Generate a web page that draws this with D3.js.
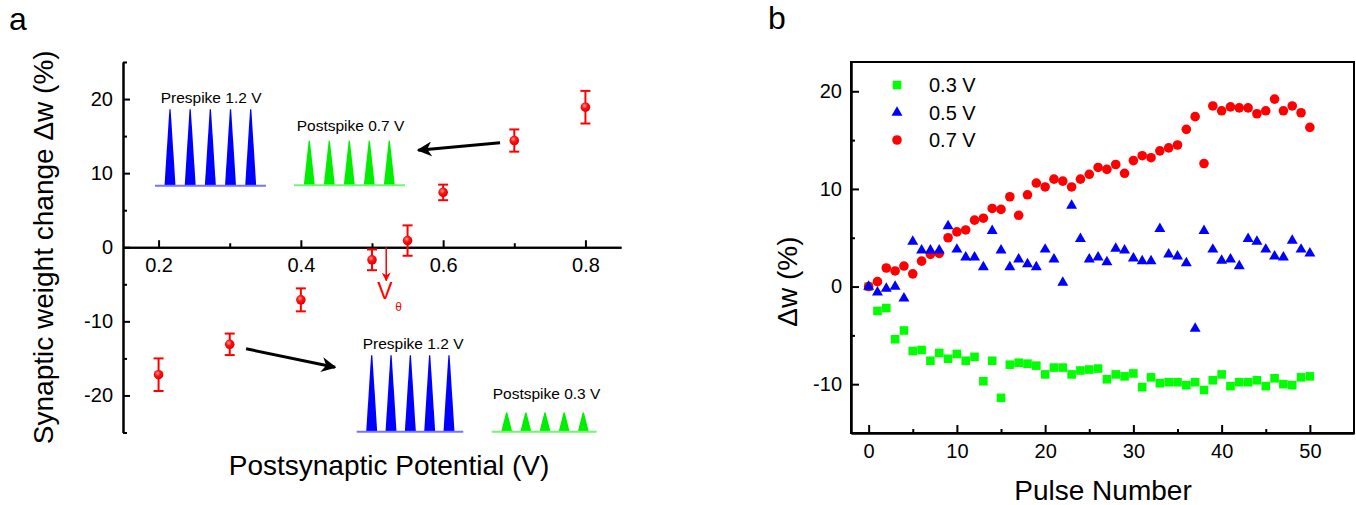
<!DOCTYPE html>
<html>
<head>
<meta charset="utf-8">
<script src="https://cdn.jsdelivr.net/npm/d3@7"></script>
<style>
body { margin: 0; background: #fff; }
svg text { font-family: "Liberation Sans", Arial, sans-serif; fill: #000; }
</style>
</head>
<body>
<div id="chart"></div>
<script>
// panel a : weight change vs postsynaptic potential
var potentials = [0.2, 0.3, 0.4, 0.5, 0.55, 0.6, 0.7, 0.8];
var weightChange = [-17.2, -13.1, -7.1, -1.7, 0.9, 7.4, 14.4, 18.9];
var weightErr = [2.2, 1.45, 1.55, 1.4, 2.05, 1.05, 1.5, 2.2];
var potentialTicks = [0.2, 0.4, 0.6, 0.8];
var potentialMinor = [0.3, 0.5, 0.7];
var changeTicks = [-20, -10, 0, 10, 20];
var changeMinor = [-25, -15, -5, 5, 15, 25];
var thresholdV = 0.52;

// spike insets
var insetLabels = ["Prespike 1.2 V", "Postspike 0.7 V", "Prespike 1.2 V", "Postspike 0.3 V"];
var insetVolts = [1.2, 0.7, 1.2, 0.3];
var spikeCount = 5;

// panel b : weight change vs pulse number
var seriesNames = ["0.3 V", "0.5 V", "0.7 V"];
var dw03 = [0, -2.5, -2.2, -5.4, -4.5, -6.6, -6.5, -7.6, -6.8, -7.4,
            -6.9, -7.6, -7.2, -9.7, -7.6, -11.4, -8.0, -7.8, -7.9, -8.1,
            -9.0, -8.3, -8.3, -9.0, -8.6, -8.5, -8.4, -9.5, -9.0, -9.2,
            -8.9, -10.3, -9.3, -9.9, -9.8, -9.8, -10.1, -9.8, -10.6, -9.6,
            -9.0, -10.2, -9.8, -9.8, -9.6, -10.2, -9.4, -10.0, -10.1, -9.3, -9.2];
var dw05 = [0, -0.6, -0.2, 0, -1.2, 4.6, 3.7, 3.7, 3.7, 6.2,
            3.8, 3.0, 3.0, 2.0, 5.7, 3.7, 2.0, 2.8, 2.3, 2.0,
            3.8, 2.8, 0.4, 8.3, 4.9, 2.8, 3.0, 2.5, 3.9, 3.7,
            2.9, 2.6, 2.6, 5.9, 3.3, 3.1, 2.4, -4.3, 5.7, 3.8,
            2.65, 2.8, 2.1, 4.9, 4.6, 3.8, 3.1, 3.0, 4.7, 3.8, 3.4];
var dw07 = [0, 0.5, 1.9, 1.6, 2.1, 1.3, 2.6, 3.3, 3.4, 5.0,
            5.6, 5.8, 6.8, 7.0, 8.0, 7.9, 9.2, 7.3, 9.4, 10.6,
            10.2, 11.0, 10.8, 10.2, 11.0, 11.5, 12.2, 12.0, 12.5, 11.6,
            12.9, 13.4, 13.2, 13.9, 14.2, 14.5, 16.1, 17.4, 12.6, 18.5,
            18.0, 18.4, 18.3, 18.3, 17.7, 18.0, 19.2, 18.0, 18.5, 17.8, 16.3];
var pulseTicks = [0, 10, 20, 30, 40, 50];
var pulseMinor = [5, 15, 25, 35, 45];
var dwTicks = [-10, 0, 10, 20];
var dwMinor = [-5, 5, 15];

function styleAxis(g, size){
    g.selectAll(".domain").attr("stroke", "#000").attr("stroke-width", 2);
    g.selectAll(".tick line").attr("stroke", "#000").attr("stroke-width", 2);
    g.selectAll(".tick text").attr("font-size", size).attr("fill", "#000")
        .style("font-family", '"Liberation Sans", Arial, sans-serif');
}

function init(){

    var w = 1356;
    var h = 505;

    var svg = d3.select("#chart")
                .append("svg")
                .attr("width", w)
                .attr("height", h);

    var defs = svg.append("defs");
    var grad = defs.append("radialGradient")
                   .attr("id", "ball")
                   .attr("cx", "40%").attr("cy", "35%").attr("r", "65%");
    grad.append("stop").attr("offset", "0%").attr("stop-color", "#ff9a9a");
    grad.append("stop").attr("offset", "45%").attr("stop-color", "#ff1010");
    grad.append("stop").attr("offset", "100%").attr("stop-color", "#e00000");

    function arrowMarker(id, color, size){
        defs.append("marker")
            .attr("id", id)
            .attr("viewBox", "0 0 10 10")
            .attr("refX", 9).attr("refY", 5)
            .attr("markerWidth", size).attr("markerHeight", size)
            .attr("markerUnits", "userSpaceOnUse")
            .attr("orient", "auto")
            .append("path")
            .attr("d", "M0,0 L10,5 L0,10 L3,5 Z")
            .attr("fill", color);
    }
    arrowMarker("blackHead", "#000", 15);
    arrowMarker("redHead", "#ff0000", 9);

    // ---------- panel a ----------
    var xA = d3.scaleLinear()
               .domain([0.15, 0.85])
               .range([123, 621]);
    var yA = d3.scaleLinear()
               .domain([-25, 25])
               .range([432.5, 62]);

    var gA = svg.append("g");

    var yAxA = gA.append("g")
        .attr("transform", "translate(" + xA(0.15) + ",0)")
        .call(d3.axisLeft(yA).tickValues(changeTicks).tickSizeInner(-7).tickSizeOuter(0)
              .tickPadding(10).tickFormat(function(d){ return String(d); }));
    styleAxis(yAxA, 20);
    var yMinA = gA.append("g")
        .attr("transform", "translate(" + xA(0.15) + ",0)")
        .call(d3.axisLeft(yA).tickValues(changeMinor).tickSizeInner(-4).tickSizeOuter(0).tickFormat(""));
    styleAxis(yMinA, 20);

    var xAxA = gA.append("g")
        .attr("transform", "translate(0," + yA(0) + ")")
        .call(d3.axisBottom(xA).tickValues(potentialTicks).tickSizeInner(-7).tickSizeOuter(0)
              .tickPadding(11).tickFormat(d3.format(".1f")));
    styleAxis(xAxA, 20);
    var xMinA = gA.append("g")
        .attr("transform", "translate(0," + yA(0) + ")")
        .call(d3.axisBottom(xA).tickValues(potentialMinor).tickSizeInner(-4).tickSizeOuter(0).tickFormat(""));
    styleAxis(xMinA, 20);

    // error bars
    var ptsA = potentials.map(function(p, i){ return {x: p, y: weightChange[i], e: weightErr[i]}; });
    var eb = gA.selectAll(".err")
        .data(ptsA)
        .enter()
        .append("g")
        .attr("class", "err")
        .attr("stroke", "#ff0000")
        .attr("stroke-width", 2);
    eb.append("line")
        .attr("x1", function(d){ return xA(d.x); })
        .attr("x2", function(d){ return xA(d.x); })
        .attr("y1", function(d){ return yA(d.y + d.e); })
        .attr("y2", function(d){ return yA(d.y - d.e); });
    eb.append("line")
        .attr("x1", function(d){ return xA(d.x) - 5; })
        .attr("x2", function(d){ return xA(d.x) + 5; })
        .attr("y1", function(d){ return yA(d.y + d.e); })
        .attr("y2", function(d){ return yA(d.y + d.e); });
    eb.append("line")
        .attr("x1", function(d){ return xA(d.x) - 5; })
        .attr("x2", function(d){ return xA(d.x) + 5; })
        .attr("y1", function(d){ return yA(d.y - d.e); })
        .attr("y2", function(d){ return yA(d.y - d.e); });

    gA.selectAll(".ball")
        .data(ptsA)
        .enter()
        .append("circle")
        .attr("class", "ball")
        .attr("cx", function(d){ return xA(d.x); })
        .attr("cy", function(d){ return yA(d.y); })
        .attr("r", 4.8)
        .attr("fill", "url(#ball)");

    // threshold arrow
    gA.append("line")
        .attr("x1", xA(thresholdV)).attr("x2", xA(thresholdV))
        .attr("y1", yA(0)).attr("y2", yA(-4.5))
        .attr("stroke", "#ff0000").attr("stroke-width", 1.5)
        .attr("marker-end", "url(#redHead)");
    gA.append("text")
        .attr("x", xA(thresholdV) - 9)
        .attr("y", 299)
        .attr("font-size", 23)
        .style("fill", "#ff0000")
        .text("V");
    gA.append("text")
        .attr("x", xA(thresholdV) + 9)
        .attr("y", 310.5)
        .attr("font-size", 12)
        .style("fill", "#ff0000")
        .text("θ");

    // black arrows pointing to the insets
    gA.append("line")
        .attr("x1", xA(0.68)).attr("y1", yA(14.1))
        .attr("x2", xA(0.565)).attr("y2", yA(13.1))
        .attr("stroke", "#000").attr("stroke-width", 3)
        .attr("marker-end", "url(#blackHead)");
    gA.append("line")
        .attr("x1", xA(0.323)).attr("y1", yA(-13.7))
        .attr("x2", xA(0.448)).attr("y2", yA(-16.2))
        .attr("stroke", "#000").attr("stroke-width", 3)
        .attr("marker-end", "url(#blackHead)");

    // spike insets
    var insetPos = [
        {x0: 155, x1: 266, base: 185.7, c0: 170, c4: 250.7, tx: 160.7, ty: 102.7, fill: "#0000ff", line: "#7474ff"},
        {x0: 294, x1: 405, base: 185.3, c0: 309.3, c4: 389.3, tx: 296.7, ty: 130.7, fill: "#00ee00", line: "#74f574"},
        {x0: 356.7, x1: 463.3, base: 431.7, c0: 371.7, c4: 449, tx: 362.7, ty: 349.3, fill: "#0000ff", line: "#7474ff"},
        {x0: 491.7, x1: 596.7, base: 431.7, c0: 506.7, c4: 583.3, tx: 492.7, ty: 399, fill: "#00ee00", line: "#74f574"}
    ];
    var amp = d3.scaleLinear().domain([0, 1.2]).range([0, 76.5]);

    insetVolts.forEach(function(v, k){
        var p = insetPos[k];
        var sx = d3.scaleLinear().domain([0, spikeCount - 1]).range([p.c0, p.c4]);
        var g = gA.append("g");
        g.selectAll("path")
            .data(d3.range(spikeCount))
            .enter()
            .append("path")
            .attr("d", function(i){
                var c = sx(i), b = p.base, hh = amp(v);
                return "M" + (c - 5.5) + "," + b +
                       "L" + (c - 3.3) + "," + (b - hh * 0.45) +
                       "L" + (c - 0.6) + "," + (b - hh) +
                       "L" + (c + 0.6) + "," + (b - hh) +
                       "L" + (c + 3.3) + "," + (b - hh * 0.45) +
                       "L" + (c + 5.5) + "," + b + "Z";
            })
            .attr("fill", p.fill);
        g.append("line")
            .attr("x1", p.x0).attr("x2", p.x1)
            .attr("y1", p.base).attr("y2", p.base)
            .attr("stroke", p.line).attr("stroke-width", 2);
        g.append("text")
            .attr("x", p.tx).attr("y", p.ty)
            .attr("font-size", 15.5)
            .text(insetLabels[k]);
    });

    gA.append("text")
        .attr("transform", "translate(43," + yA(0) + ") rotate(-90)")
        .attr("text-anchor", "middle")
        .attr("dy", "0.35em")
        .attr("font-size", 28)
        .text("Synaptic weight change Δw (%)");
    gA.append("text")
        .attr("x", 389).attr("y", 475)
        .attr("text-anchor", "middle")
        .attr("font-size", 28)
        .text("Postsynaptic Potential (V)");
    gA.append("text")
        .attr("x", 9).attr("y", 30)
        .attr("font-size", 32)
        .text("a");

    // ---------- panel b ----------
    var xB = d3.scaleLinear()
               .domain([-2, 55])
               .range([851, 1354]);
    var yB = d3.scaleLinear()
               .domain([-15, 23])
               .range([433, 62]);

    var gB = svg.append("g");

    gB.append("rect")
        .attr("x", xB(-2)).attr("y", yB(23))
        .attr("width", xB(55) - xB(-2))
        .attr("height", yB(-15) - yB(23))
        .attr("fill", "none")
        .attr("stroke", "#000")
        .attr("stroke-width", 2);

    var yAxB = gB.append("g")
        .attr("transform", "translate(" + xB(-2) + ",0)")
        .call(d3.axisLeft(yB).tickValues(dwTicks).tickSizeInner(-8).tickSizeOuter(0)
              .tickPadding(9).tickFormat(function(d){ return String(d); }));
    styleAxis(yAxB, 20);
    var yMinB = gB.append("g")
        .attr("transform", "translate(" + xB(-2) + ",0)")
        .call(d3.axisLeft(yB).tickValues(dwMinor).tickSizeInner(-4).tickSizeOuter(0).tickFormat(""));
    styleAxis(yMinB, 20);

    var xAxB = gB.append("g")
        .attr("transform", "translate(0," + yB(-15) + ")")
        .call(d3.axisBottom(xB).tickValues(pulseTicks).tickSizeInner(-8).tickSizeOuter(0)
              .tickPadding(11).tickFormat(function(d){ return String(d); }));
    styleAxis(xAxB, 20);
    var xMinB = gB.append("g")
        .attr("transform", "translate(0," + yB(-15) + ")")
        .call(d3.axisBottom(xB).tickValues(pulseMinor).tickSizeInner(-4).tickSizeOuter(0).tickFormat(""));
    styleAxis(xMinB, 20);

    var sq = d3.symbol().type(d3.symbolSquare).size(74);
    var tri = d3.symbol().type(d3.symbolTriangle).size(52);

    gB.selectAll(".s03")
        .data(dw03)
        .enter()
        .append("path")
        .attr("class", "s03")
        .attr("d", sq)
        .attr("transform", function(d, i){ return "translate(" + xB(i) + "," + yB(d) + ")"; })
        .attr("fill", "#00ff00");

    gB.selectAll(".s07")
        .data(dw07)
        .enter()
        .append("circle")
        .attr("class", "s07")
        .attr("cx", function(d, i){ return xB(i); })
        .attr("cy", function(d){ return yB(d); })
        .attr("r", 4.8)
        .attr("fill", "#ff0000");

    gB.selectAll(".s05")
        .data(dw05)
        .enter()
        .append("path")
        .attr("class", "s05")
        .attr("d", tri)
        .attr("transform", function(d, i){ return "translate(" + xB(i) + "," + yB(d) + ")"; })
        .attr("fill", "#0000ff");

    // legend
    var legY = [85, 112.7, 140];
    var lg = gB.append("g");
    lg.append("path").attr("d", sq).attr("transform", "translate(897," + legY[0] + ")").attr("fill", "#00ff00");
    lg.append("path").attr("d", tri).attr("transform", "translate(897," + legY[1] + ")").attr("fill", "#0000ff");
    lg.append("circle").attr("cx", 897).attr("cy", legY[2]).attr("r", 4.8).attr("fill", "#ff0000");
    lg.selectAll("text")
        .data(seriesNames)
        .enter()
        .append("text")
        .attr("x", 929)
        .attr("y", function(d, i){ return legY[i]; })
        .attr("dy", "0.36em")
        .attr("font-size", 20)
        .text(function(d){ return d; });

    gB.append("text")
        .attr("transform", "translate(787," + yB(0.5) + ") rotate(-90)")
        .attr("text-anchor", "middle")
        .attr("dy", "0.35em")
        .attr("font-size", 28)
        .text("Δw (%)");
    gB.append("text")
        .attr("x", 1103).attr("y", 500)
        .attr("text-anchor", "middle")
        .attr("font-size", 28)
        .text("Pulse Number");
    gB.append("text")
        .attr("x", 768).attr("y", 29)
        .attr("font-size", 32)
        .text("b");
}

window.onload = init;
</script>
</body>
</html>
